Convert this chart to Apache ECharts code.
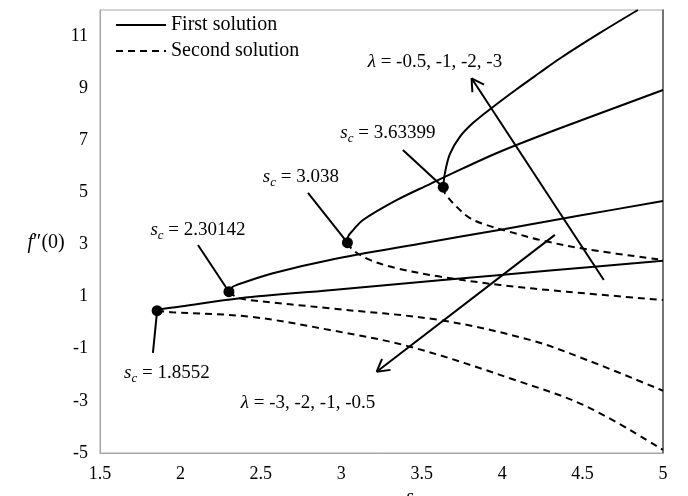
<!DOCTYPE html>
<html>
<head>
<meta charset="utf-8">
<script src="https://cdn.jsdelivr.net/npm/echarts@6/dist/echarts.min.js"></script>
<style>html,body{margin:0;padding:0;background:#fff}#c{width:688px;height:496px}</style>
</head>
<body>
<div id="c"></div>
<script>
// ---- data ----
const xRange = [1.5, 5];
const xInterval = 0.5;
const yRange = [-5, 12];
const yInterval = 2;

const criticalS = [1.8552, 2.30142, 3.038, 3.63399];
const criticalF = [0.46, 1.19, 3.07, 5.2];
const criticalText = ['1.8552', '2.30142', '3.038', '3.63399'];

// first solution (solid) branches
const firstA = [[1.8552,0.46],[1.87,0.51],[2.0,0.62],[2.37,0.94],[2.929,1.25],[3.613,1.63],[4.297,2.0],[5.0,2.38]];
const firstB = [[2.30142,1.19],[2.315,1.33],[2.351,1.45],[2.575,1.90],[2.929,2.41],[3.489,3.03],[4.017,3.60],[4.483,4.11],[5.0,4.67]];
const firstC = [[3.038,3.07],[3.042,3.30],[3.075,3.56],[3.135,3.94],[3.346,4.71],[3.551,5.32],[3.756,5.92],[3.986,6.56],[4.359,7.46],[5.0,8.93]];
const firstD = [[3.63399,5.2],[3.644,5.73],[3.675,6.47],[3.737,7.13],[3.818,7.66],[3.943,8.28],[4.092,8.97],[4.235,9.60],[4.359,10.14],[4.608,11.12],[4.844,12.0]];

// second solution (dashed) branches
const secondA = [[1.8552,0.46],[1.95,0.40],[2.432,0.23],[2.929,-0.28],[3.427,-0.92],[4.110,-2.26],[4.527,-3.22],[5.0,-4.88]];
const secondB = [[2.30142,1.19],[2.33,1.05],[2.37,0.94],[2.432,0.87],[2.929,0.55],[3.613,0.10],[4.172,-0.66],[4.527,-1.43],[5.0,-2.61]];
const secondC = [[3.038,3.07],[3.072,2.79],[3.178,2.41],[3.346,2.09],[3.613,1.77],[3.986,1.45],[4.402,1.19],[5.0,0.87]];
const secondD = [[3.63399,5.2],[3.644,4.97],[3.717,4.45],[3.80,4.01],[3.903,3.75],[4.028,3.52],[4.253,3.15],[4.525,2.82],[5.0,2.41]];

// annotations (data coordinates)
const pointerStart = [[1.829,-1.16],[2.109,2.98],[2.793,4.98],[3.383,6.63]];
const criticalLabelPos = [[1.916,-1.93],[2.109,3.56],[2.749,5.59],[3.29,7.28]];
const arrowUp = [[4.632,1.64],[3.81,9.38]];
const arrowDown = [[4.328,3.37],[3.22,-1.88]];
const lambdaUpText = ' = -0.5, -1, -2, -3';
const lambdaUpPos = [3.582, 10.0];
const lambdaDownText = ' = -3, -2, -1, -0.5';
const lambdaDownPos = [2.793, -3.08];

const FONT = '"Liberation Serif", "Times New Roman", serif';

const plain = {color: '#000', textBorderWidth: 0, textBorderColor: 'transparent', textShadowBlur: 0, opacity: 1};
const richStyles = {
  i: Object.assign({fontFamily: FONT, fontStyle: 'italic', fontSize: 19, lineHeight: 24}, plain),
  sub: Object.assign({fontFamily: FONT, fontStyle: 'italic', fontSize: 13, lineHeight: 13, verticalAlign: 'bottom'}, plain),
  n: Object.assign({fontFamily: FONT, fontSize: 19, lineHeight: 24}, plain)
};

function branch(name, data, dashed) {
  return {
    name: name, type: 'line', data: data, showSymbol: false, symbol: 'none',
    smooth: 0.35, clip: true, silent: true,
    lineStyle: {color: '#000', width: 2, type: dashed ? [7, 5] : 'solid'},
    itemStyle: {color: '#000', opacity: 0},
    z: 3
  };
}

const labelData = criticalLabelPos.map((p, k) => ({
  value: p,
  label: {formatter: '{i|s}{sub|c}{n| = ' + criticalText[k] + '}'}
}));
labelData.push({value: lambdaUpPos, label: {formatter: '{i|λ}{n|' + lambdaUpText + '}'}});
labelData.push({value: lambdaDownPos, label: {formatter: '{i|λ}{n|' + lambdaDownText + '}'}});

const pointerLines = pointerStart.map((p, k) => [{coord: p}, {coord: [criticalS[k], criticalF[k]]}]);
const arrowShafts = [
  [{coord: arrowUp[0]}, {coord: arrowUp[1]}],
  [{coord: arrowDown[0]}, {coord: arrowDown[1]}]
];

const option = {
  animation: false,
  backgroundColor: '#fff',
  grid: {left: 100, right: 25, top: 10, bottom: 43, containLabel: false, outerBoundsMode: 'none',
         show: true, borderColor: '#a6a6a6', borderWidth: 1, backgroundColor: 'transparent'},
  legend: {
    left: 110, top: 10, orient: 'vertical', itemWidth: 50, itemHeight: 12, itemGap: 6,
    data: ['First solution', 'Second solution'],
    itemStyle: {opacity: 0},
    textStyle: {fontFamily: FONT, fontSize: 20, color: '#000'},
    selectedMode: false
  },
  xAxis: {
    type: 'value', min: xRange[0], max: xRange[1], interval: xInterval,
    name: 's', nameLocation: 'middle', nameGap: 35,
    nameTextStyle: {fontFamily: FONT, fontStyle: 'italic', fontSize: 20, color: '#000', padding: [0, 0, 0, 57]},
    axisLine: {show: true, onZero: false, lineStyle: {color: '#a6a6a6', width: 1}},
    axisTick: {show: false},
    splitLine: {show: false},
    axisLabel: {fontFamily: FONT, fontSize: 18, color: '#000', margin: 12}
  },
  yAxis: [{
    type: 'value', min: yRange[0], max: yRange[1], interval: yInterval,
    name: '{i|f}{n|″(0)}', nameLocation: 'middle', nameGap: 35, nameRotate: 0,
    nameTextStyle: {padding: [23, 0, 0, 0], rich: {
      i: {fontFamily: FONT, fontStyle: 'italic', fontSize: 20, color: '#000'},
      n: {fontFamily: FONT, fontSize: 20, color: '#000'}
    }},
    axisLine: {show: true, onZero: false, lineStyle: {color: '#a6a6a6', width: 1}},
    axisTick: {show: false},
    splitLine: {show: false},
    axisLabel: {fontFamily: FONT, fontSize: 18, color: '#000', margin: 12, showMaxLabel: false,
                lineHeight: 18, padding: [5, 0, 0, 0]}
  }, {
    type: 'value', position: 'right', min: yRange[0], max: yRange[1], interval: yInterval,
    axisLine: {show: true, onZero: false, lineStyle: {color: '#555', width: 1.5}},
    axisTick: {show: false}, splitLine: {show: false}, axisLabel: {show: false}
  }],
  series: [
    branch('First solution', firstA, false),
    branch('First solution', firstB, false),
    branch('First solution', firstC, false),
    branch('First solution', firstD, false),
    branch('Second solution', secondA, true),
    branch('Second solution', secondB, true),
    branch('Second solution', secondC, true),
    branch('Second solution', secondD, true),
    {
      name: 'critical', type: 'scatter', symbol: 'circle', symbolSize: 11, silent: true, z: 5,
      itemStyle: {color: '#000', opacity: 1},
      data: criticalS.map((s, k) => [s, criticalF[k]])
    },
    {
      id: 'notes', name: 'notes', type: 'line', data: [], silent: true, z: 4,
      markLine: {
        silent: true, animation: false, symbol: ['none', 'none'],
        lineStyle: {color: '#000', width: 2, type: 'solid', opacity: 1},
        label: {show: false},
        data: pointerLines.concat(arrowShafts)
      }
    },
    {
      name: 'labels', type: 'scatter', symbolSize: 0, silent: true, z: 6, clip: false,
      itemStyle: {color: '#000', opacity: 1},
      label: Object.assign({show: true, position: [0, 0], align: 'center', verticalAlign: 'middle', rich: richStyles}, plain),
      data: labelData
    }
  ]
};

const chart = echarts.init(document.getElementById('c'), null, {renderer: 'canvas'});
chart.setOption(option);

// open chevron arrow heads, built from the arrow shafts through the axis scales
function headArms(arrow) {
  const tail = chart.convertToPixel({gridIndex: 0}, arrow[0]);
  const tip = chart.convertToPixel({gridIndex: 0}, arrow[1]);
  const ang = Math.atan2(tail[1] - tip[1], tail[0] - tip[0]);
  const len = 14, spread = Math.PI / 6;
  const arms = [];
  [ang - spread, ang + spread].forEach(a => {
    const px = [tip[0] + len * Math.cos(a), tip[1] + len * Math.sin(a)];
    arms.push([{coord: arrow[1]}, {coord: chart.convertFromPixel({gridIndex: 0}, px)}]);
  });
  return arms;
}
const heads = headArms(arrowUp).concat(headArms(arrowDown));
chart.setOption({series: [{id: 'notes', markLine: {data: pointerLines.concat(arrowShafts, heads)}}]});
</script>
</body>
</html>
